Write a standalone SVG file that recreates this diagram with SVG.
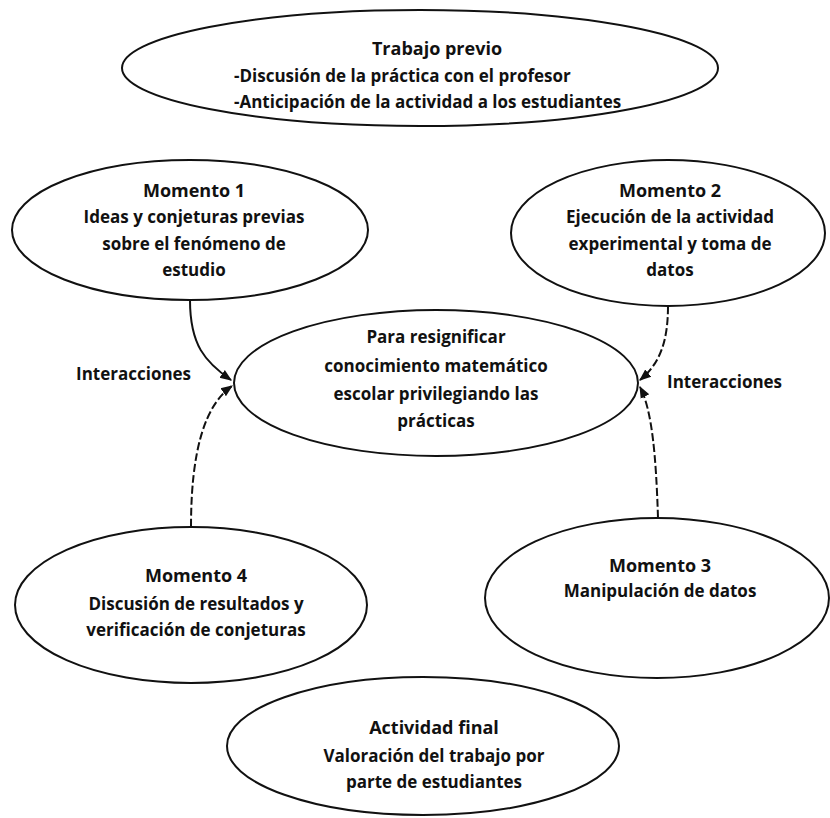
<svg xmlns="http://www.w3.org/2000/svg" width="830" height="818" viewBox="0 0 830 818">
<style>
.n{fill:#fff;stroke:#111;stroke-width:2}
.t{font-family:"Open Sans","Liberation Sans",sans-serif;font-weight:700;font-size:18px;fill:#111;text-anchor:middle}
.b{font-family:"Open Sans","Liberation Sans",sans-serif;font-weight:700;font-size:17px;fill:#111;text-anchor:middle}
.l{text-anchor:start}
.c{fill:none;stroke:#111;stroke-width:2}
.d{stroke-dasharray:8 3}
</style>
<defs>
<marker id="ah" viewBox="0 0 10 10" refX="9" refY="5" markerWidth="12" markerHeight="12" markerUnits="userSpaceOnUse" orient="auto"><path d="M0,1 L10,5 L0,9 z" fill="#111"/></marker>
</defs>
<rect width="830" height="818" fill="#fff"/>
<g id="connectors">
<path class="c" d="M190,300 C190,345 205,362 231,380" marker-end="url(#ah)"/>
<path class="c d" d="M191,527 C191,450 205,405 232,386" marker-end="url(#ah)"/>
<path class="c d" d="M668,306 C668,345 658,365 640,380" marker-end="url(#ah)"/>
<path class="c d" d="M658,518 C656,455 652,410 640,387" marker-end="url(#ah)"/>
<text class="b l" x="76" y="380">Interacciones</text>
<text class="b l" x="667" y="388">Interacciones</text>
</g>
<g id="trabajo-previo">
<ellipse class="n" cx="420" cy="68" rx="298" ry="58"/>
<text class="t" x="437" y="55">Trabajo previo</text>
<text class="b l" x="234" y="82">-Discusión de la práctica con el profesor</text>
<text class="b l" x="234" y="108">-Anticipación de la actividad a los estudiantes</text>
</g>
<g id="momento1">
<ellipse class="n" cx="190" cy="230" rx="178" ry="70"/>
<text class="t" x="194" y="197">Momento 1</text>
<text class="b" x="194" y="223">Ideas y conjeturas previas</text>
<text class="b" x="194" y="250">sobre el fenómeno de</text>
<text class="b" x="194" y="276">estudio</text>
</g>
<g id="momento2">
<ellipse class="n" cx="668" cy="233" rx="157" ry="73"/>
<text class="t" x="670" y="197">Momento 2</text>
<text class="b" x="670" y="223">Ejecución de la actividad</text>
<text class="b" x="670" y="250">experimental y toma de</text>
<text class="b" x="670" y="276">datos</text>
</g>
<g id="centro">
<ellipse class="n" cx="436" cy="383" rx="202" ry="73"/>
<text class="b" x="436" y="343">Para resignificar</text>
<text class="b" x="436" y="372">conocimiento matemático</text>
<text class="b" x="436" y="400">escolar privilegiando las</text>
<text class="b" x="436" y="427">prácticas</text>
</g>
<g id="momento4">
<ellipse class="n" cx="191" cy="605" rx="176" ry="78"/>
<text class="t" x="196" y="582">Momento 4</text>
<text class="b" x="196" y="610">Discusión de resultados y</text>
<text class="b" x="196" y="636">verificación de conjeturas</text>
</g>
<g id="momento3">
<ellipse class="n" cx="657" cy="598" rx="172" ry="80"/>
<text class="t" x="660" y="572">Momento 3</text>
<text class="b" x="660" y="597">Manipulación de datos</text>
</g>
<g id="actividad-final">
<ellipse class="n" cx="423" cy="746" rx="196" ry="69"/>
<text class="t" x="434" y="734">Actividad final</text>
<text class="b" x="434" y="762">Valoración del trabajo por</text>
<text class="b" x="434" y="788">parte de estudiantes</text>
</g>
</svg>
